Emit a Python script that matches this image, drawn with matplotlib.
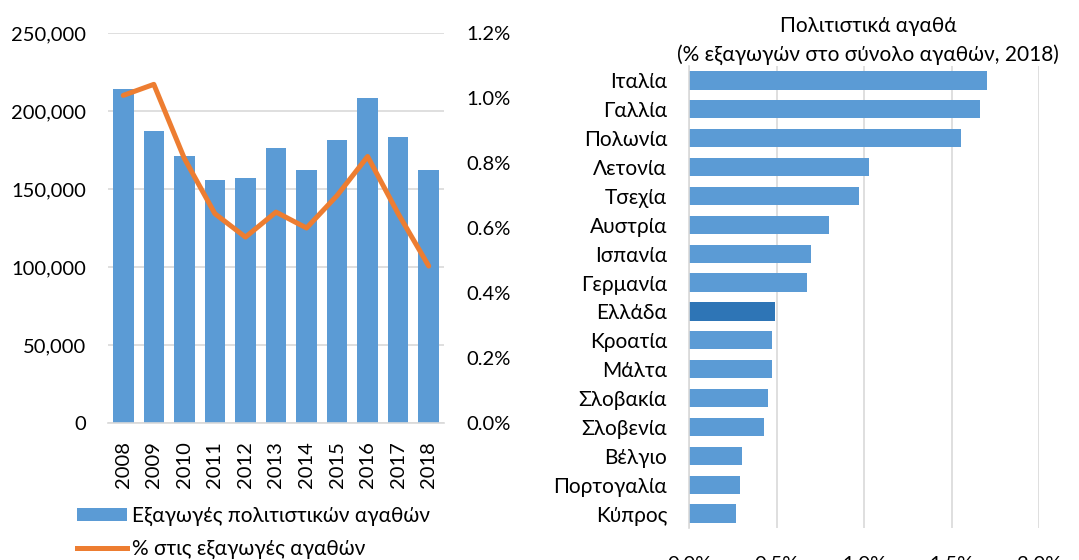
import matplotlib
matplotlib.use("Agg")
import matplotlib.pyplot as plt
from matplotlib.patches import Patch
from matplotlib.lines import Line2D
from matplotlib.ticker import FuncFormatter

plt.rcParams['font.family'] = ['Lato', 'DejaVu Sans']

years = ['2008', '2009', '2010', '2011', '2012', '2013', '2014', '2015', '2016', '2017', '2018']
exports = [214100, 187200, 170900, 155600, 157300, 176100, 162400, 181700, 208100, 183300, 162000]
share_pct = [1.008, 1.042, 0.814, 0.644, 0.572, 0.649, 0.600, 0.700, 0.820, 0.644, 0.483]

countries = ['Ιταλία', 'Γαλλία', 'Πολωνία', 'Λετονία', 'Τσεχία', 'Αυστρία', 'Ισπανία', 'Γερμανία',
             'Ελλάδα', 'Κροατία', 'Μάλτα', 'Σλοβακία', 'Σλοβενία', 'Βέλγιο', 'Πορτογαλία', 'Κύπρος']
country_pct = [1.702, 1.662, 1.555, 1.029, 0.970, 0.797, 0.698, 0.675,
               0.488, 0.475, 0.471, 0.450, 0.427, 0.300, 0.290, 0.265]

BLUE = '#5B9BD5'
DARK = '#2E75B6'
ORANGE = '#ED7D31'
GRID = '#D9D9D9'
FSN = 14.5   # numbers
FST = 15     # Greek text

W, H = 1079, 560
fig = plt.figure(figsize=(W / 100, H / 100), dpi=100)

# ---------- left chart ----------
ax = fig.add_axes([108 / W, (H - 423) / H, 336 / W, 390 / H])
x = list(range(len(years)))
ax.bar(x, exports, width=0.67, color=BLUE, zorder=2)
ax.set_ylim(0, 250000)
ax.set_yticks(range(0, 250001, 50000))
ax.yaxis.set_major_formatter(FuncFormatter(lambda v, p: f'{int(v):,}'))
ax.set_xlim(-0.5, len(years) - 0.5)
ax.set_xticks(x)
ax.set_xticklabels(years, rotation=90)
ax.grid(axis='y', color=GRID, linewidth=1.2, zorder=0)
for s in ['top', 'right', 'left']:
    ax.spines[s].set_visible(False)
ax.spines['bottom'].set_color(GRID)
ax.spines['bottom'].set_linewidth(1.2)
ax.tick_params(axis='both', length=0, labelsize=FSN, colors='black')
ax.tick_params(axis='y', pad=16)
ax.tick_params(axis='x', pad=13)

ax2 = ax.twinx()
ax2.plot(x, share_pct, color=ORANGE, linewidth=3.6, solid_capstyle='round', solid_joinstyle='round', zorder=3)
ax2.set_ylim(0, 1.2)
ax2.set_yticks([0, 0.2, 0.4, 0.6, 0.8, 1.0, 1.2])
ax2.yaxis.set_major_formatter(FuncFormatter(lambda v, p: f'{v:.1f}%'))
for s in ['top', 'right', 'left', 'bottom']:
    ax2.spines[s].set_visible(False)
ax2.tick_params(axis='y', length=0, labelsize=FSN, pad=16)

handles = [Patch(facecolor=BLUE, edgecolor='none'),
           Line2D([0], [0], color=ORANGE, linewidth=3.6)]
fig.legend(handles, ['Εξαγωγές πολιτιστικών αγαθών', '% στις εξαγωγές αγαθών'],
           loc='upper left', bbox_to_anchor=(77 / W, 1 - 506 / H), frameon=False,
           fontsize=FST, borderpad=0, borderaxespad=0, handlelength=2.4,
           handleheight=0.6, handletextpad=0.25, labelspacing=0.6)

# ---------- right chart ----------
axr = fig.add_axes([689.3 / W, (H - 528) / H, (1039 - 689.3) / W, 462 / H])
y = list(range(len(countries)))
colors = [DARK if c == 'Ελλάδα' else BLUE for c in countries]
axr.barh(y, country_pct, height=0.63, color=colors, zorder=2)
axr.set_ylim(len(countries) - 0.5, -0.5)
axr.set_yticks(y)
axr.set_yticklabels(countries, fontsize=FST)
axr.set_xlim(0, 2.0)
axr.set_xticks([0, 0.5, 1.0, 1.5, 2.0])
axr.xaxis.set_major_formatter(FuncFormatter(lambda v, p: f'{v:.1f}%'))
axr.grid(axis='x', color=GRID, linewidth=1.2, zorder=0)
for s in ['top', 'right', 'bottom']:
    axr.spines[s].set_visible(False)
axr.spines['left'].set_color(GRID)
axr.spines['left'].set_linewidth(1.2)
axr.tick_params(axis='both', length=0, colors='black')
axr.tick_params(axis='x', labelsize=FSN, pad=20)
axr.tick_params(axis='y', pad=16)

fig.text(868 / W, 1 - 26 / H, 'Πολιτιστικά αγαθά', ha='center', va='center', fontsize=FST)
fig.text(868 / W, 1 - 55 / H, '(% εξαγωγών στο σύνολο αγαθών, 2018)', ha='center', va='center', fontsize=FST)

fig.savefig('out.png', dpi=100)
